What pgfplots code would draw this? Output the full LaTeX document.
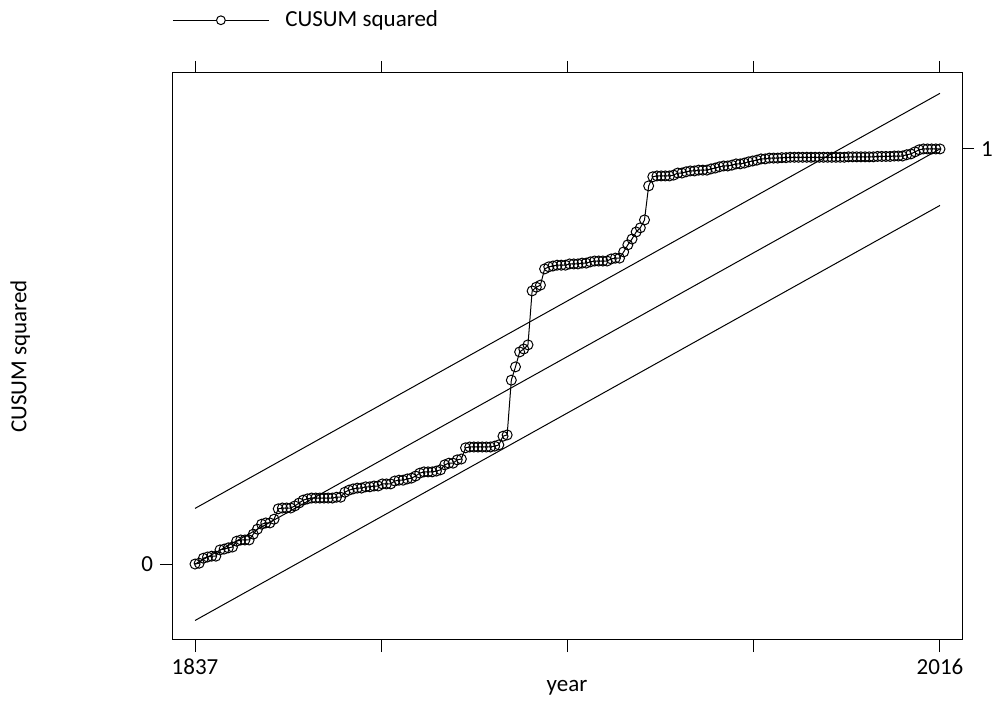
\documentclass[border=0pt]{standalone}
\usepackage{pgfplots}
\pgfplotsset{compat=1.18}
\usepackage{pgfplotstable}
\usepackage{fontspec}
\setmainfont{Carlito}
\pgfplotstableread{
year v
1837 0
1838 0.002
1839 0.014
1840 0.017
1841 0.019
1842 0.019
1843 0.034
1844 0.036
1845 0.039
1846 0.041
1847 0.055
1848 0.058
1849 0.058
1850 0.058
1851 0.072
1852 0.084
1853 0.096
1854 0.099
1855 0.099
1856 0.108
1857 0.133
1858 0.135
1859 0.135
1860 0.135
1861 0.140
1862 0.147
1863 0.154
1864 0.157
1865 0.159
1866 0.159
1867 0.159
1868 0.159
1869 0.159
1870 0.159
1871 0.161
1872 0.161
1873 0.173
1874 0.178
1875 0.181
1876 0.183
1877 0.183
1878 0.186
1879 0.186
1880 0.188
1881 0.188
1882 0.193
1883 0.193
1884 0.193
1885 0.200
1886 0.202
1887 0.202
1888 0.205
1889 0.207
1890 0.212
1891 0.219
1892 0.222
1893 0.222
1894 0.222
1895 0.224
1896 0.227
1897 0.239
1898 0.243
1899 0.243
1900 0.251
1901 0.253
1902 0.280
1903 0.282
1904 0.282
1905 0.282
1906 0.282
1907 0.282
1908 0.282
1909 0.284
1910 0.287
1911 0.308
1912 0.311
1913 0.443
1914 0.475
1915 0.511
1916 0.518
1917 0.528
1918 0.658
1919 0.667
1920 0.672
1921 0.711
1922 0.716
1923 0.718
1924 0.720
1925 0.720
1926 0.720
1927 0.723
1928 0.723
1929 0.723
1930 0.725
1931 0.725
1932 0.728
1933 0.730
1934 0.730
1935 0.730
1936 0.730
1937 0.735
1938 0.737
1939 0.737
1940 0.752
1941 0.769
1942 0.783
1943 0.800
1944 0.810
1945 0.829
1946 0.911
1947 0.933
1948 0.935
1949 0.935
1950 0.935
1951 0.935
1952 0.937
1953 0.942
1954 0.942
1955 0.945
1956 0.947
1957 0.947
1958 0.949
1959 0.949
1960 0.949
1961 0.952
1962 0.954
1963 0.957
1964 0.959
1965 0.959
1966 0.961
1967 0.964
1968 0.964
1969 0.966
1970 0.969
1971 0.971
1972 0.973
1973 0.976
1974 0.976
1975 0.978
1976 0.978
1977 0.978
1978 0.979
1979 0.979
1980 0.980
1981 0.980
1982 0.980
1983 0.980
1984 0.980
1985 0.980
1986 0.980
1987 0.980
1988 0.980
1989 0.980
1990 0.980
1991 0.980
1992 0.980
1993 0.980
1994 0.981
1995 0.981
1996 0.981
1997 0.981
1998 0.981
1999 0.981
2000 0.981
2001 0.982
2002 0.982
2003 0.982
2004 0.982
2005 0.983
2006 0.983
2007 0.983
2008 0.986
2009 0.988
2010 0.993
2011 0.998
2012 1.000
2013 1.000
2014 1.000
2015 1.000
2016 1.000
}\cusum
\begin{document}
\begin{tikzpicture}[x=0.5pt,y=0.5pt]
\path[use as bounding box] (0,0) rectangle (1000,706);
\pgfplotsset{
  common/.style={
    at={(86pt,33pt)}, anchor=south west,
    scale only axis, width=395pt, height=283.5pt,
    xmin=1831.47, xmax=2021.29, ymin=-0.183, ymax=1.183,
    tick align=outside, major tick length=6pt,
    every tick/.style={black, line width=0.5pt},
    tick label style={font=\fontsize{11.5}{13}\selectfont},
    /pgf/number format/assume math mode=true,
    axis line style={line width=0.5pt},
  }
}
\begin{axis}[common,
  xtick={1837,1881.75,1926.5,1971.25,2016},
  xticklabels={1837,,,,2016},
  xtick pos=both, xticklabel pos=lower,
  ytick={0}, yticklabels={0}, ytick pos=left,
  xlabel={year}, ylabel={CUSUM squared},
  every axis x label/.style={at={(axis description cs:0.5,-0.085)}, anchor=center, font=\fontsize{11.5}{13}\selectfont},
  every axis y label/.style={at={(axis description cs:-0.192,0.5)}, anchor=center, rotate=90, font=\fontsize{11.5}{13}\selectfont},
  legend style={at={(axis description cs:0,1.093)}, anchor=west, draw=none, fill=none, inner sep=0pt,
    font=\fontsize{11.5}{13}\selectfont, /tikz/every odd column/.append style={column sep=6pt}},
  legend cell align=left,
  legend image code/.code={\draw[line width=0.5pt] (0pt,0pt) -- (48pt,0pt); \draw[line width=0.5pt, fill=white] (24pt,0pt) circle (2.2pt);},
]
\addplot[black, line width=0.5pt, mark=o, mark size=2.5pt, mark options={solid, line width=0.5pt}] table[x=year,y=v] {\cusum};
\addlegendentry{CUSUM squared}
\addplot[black, line width=0.5pt, forget plot] coordinates {(1837,0) (2016,1)};
\addplot[black, line width=0.5pt, forget plot] coordinates {(1837,0.134) (2016,1.134)};
\addplot[black, line width=0.5pt, forget plot] coordinates {(1837,-0.136) (2016,0.864)};
\end{axis}
\begin{axis}[common,
  hide x axis,
  axis y line*=right,
  ytick={1}, yticklabels={1},
]
\addplot[draw=none] coordinates {(1837,0)};
\end{axis}
\end{tikzpicture}
\end{document}
